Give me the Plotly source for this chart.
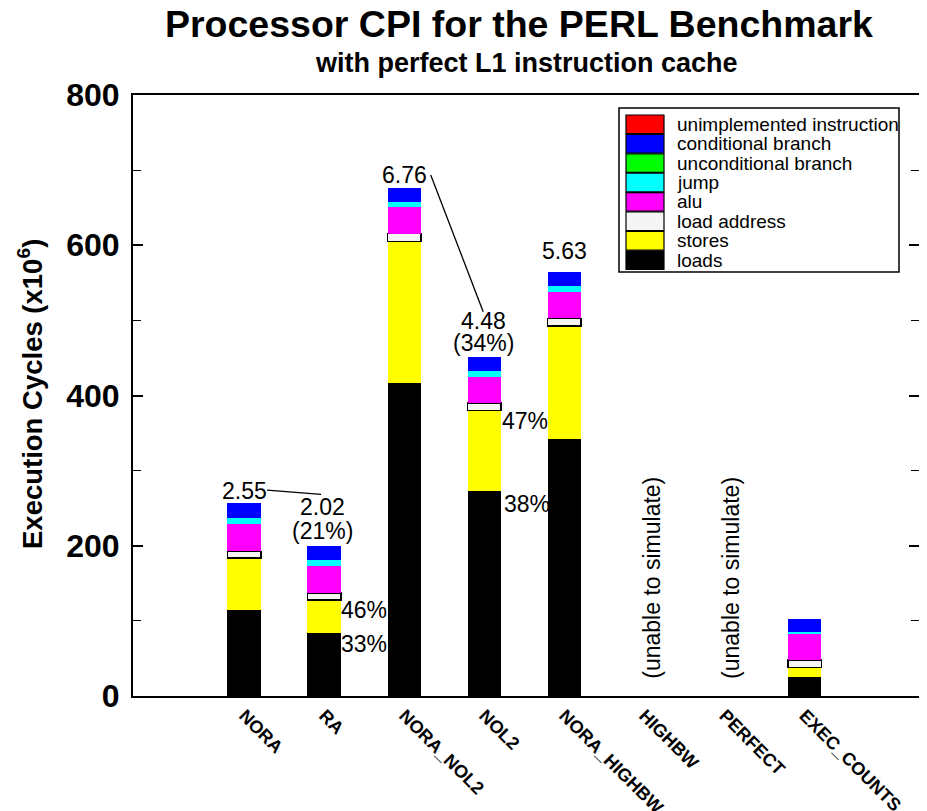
import plotly.graph_objects as go

# ---------------- data ----------------
categories = ["NORA", "RA", "NORA_NOL2", "NOL2", "NORA_HIGHBW", "HIGHBW", "PERFECT", "EXEC_COUNTS"]
positions = [0, 1, 2, 3, 4, 5, 6, 7]

loads = [114.5, 84.3, 416, 273, 341.7, None, None, 25.7]
stores = [69, 43.5, 189, 107, 150.8, None, None, 12.5]
load_address = [9, 9.7, 10.6, 9.8, 10.2, None, None, 9.7]
alu = [36, 36, 35.5, 35.4, 35.4, None, None, 35.5]
jump = [8, 7.6, 6.7, 7.6, 7.6, None, None, 2.2]
unconditional_branch = [0, 0, 0, 0, 0, None, None, 0]
conditional_branch = [20, 19, 19, 18, 19, None, None, 16.5]
unimplemented = [0, 0, 0, 0, 0, None, None, 0]

series_names = ["loads", "stores", "load address", "alu", "jump",
                "unconditional branch", "conditional branch", "unimplemented instruction"]
series_values = [loads, stores, load_address, alu, jump,
                 unconditional_branch, conditional_branch, unimplemented]
series_colors = ["#000000", "#ffff00", "#f5f5f5", "#ff00ff", "#00ffff",
                 "#00ff00", "#0000ff", "#ff0000"]

y_ticks = [0, 200, 400, 600, 800]

FONT = "Liberation Sans, Arial, Helvetica, sans-serif"

# the page body adds an 8px offset; margins compensate so the plot box is at x 133-919, y 95-696
OFF = 8
L, T = 133 - OFF, 95 - OFF
R = 927 - (919 - OFF)
B = 811 - (696 - OFF)
PW, PH = 919 - 133, 696 - 95

fig = go.Figure()
for name, vals, col in zip(series_names, series_values, series_colors):
    outline = 1.6 if name == "load address" else 0
    fig.add_trace(go.Bar(
        x=positions, y=vals, name=name, width=0.42,
        marker=dict(color=col, line=dict(color="black", width=outline)),
        showlegend=False,
    ))

fig.update_layout(
    barmode="stack",
    width=927, height=811,
    margin=dict(l=L, r=R, t=T, b=B, autoexpand=False),
    paper_bgcolor="white", plot_bgcolor="white",
    font=dict(family=FONT, color="black"),
)

fig.update_xaxes(
    range=[-1.39, 8.43],
    tickmode="array", tickvals=positions, ticktext=categories,
    tickangle=45, ticks="",
    tickfont=dict(family=FONT, size=18, weight="bold", color="black"),
    showline=True, linecolor="black", linewidth=2, mirror=True,
    showgrid=False, zeroline=False, automargin=False,
)
fig.update_yaxes(
    range=[0, 800],
    tickmode="array", tickvals=y_ticks,
    ticks="inside", ticklen=10, tickwidth=1.5, tickcolor="black",
    minor=dict(dtick=100, ticks="inside", ticklen=8, tickwidth=1.2, tickcolor="black", showgrid=False),
    tickfont=dict(family=FONT, size=32, weight="bold", color="black"),
    ticklabelstandoff=5,
    showline=True, linecolor="black", linewidth=2, mirror="ticks",
    showgrid=False, zeroline=False, automargin=False,
)


def px_x(px):
    return (px - 133) / PW


def px_y(py):
    return (696 - py) / PH


ann = []
# titles
ann.append(dict(text="Processor CPI for the PERL Benchmark", xref="paper", yref="paper",
                x=px_x(518.5), y=px_y(24), xanchor="center", yanchor="middle", showarrow=False,
                font=dict(family=FONT, size=37.5, weight="bold")))
ann.append(dict(text="with perfect L1 instruction cache", xref="paper", yref="paper",
                x=px_x(526.5), y=px_y(63), xanchor="center", yanchor="middle", showarrow=False,
                font=dict(family=FONT, size=27, weight="bold")))
ann.append(dict(text="Execution Cycles (x10<sup>6</sup>)", xref="paper", yref="paper",
                x=px_x(30), y=px_y(394), xanchor="center", yanchor="middle", textangle=-90,
                showarrow=False, font=dict(family=FONT, size=27.5, weight="bold")))

# value labels
labels = [
    ("2.55", 0.0, 273.5, "center"),
    ("2.02", 0.975, 252, "center"),
    ("(21%)", 0.975, 219.6, "center"),
    ("46%", 1.18, 114.5, "left"),
    ("33%", 1.18, 69.6, "left"),
    ("6.76", 2.0, 693.5, "center"),
    ("4.48", 2.985, 498.7, "center"),
    ("(34%)", 2.985, 469.5, "center"),
    ("47%", 3.2, 366.7, "left"),
    ("38%", 3.22, 255.5, "left"),
    ("5.63", 4.0, 592, "center"),
]
for t, x, y, anc in labels:
    ann.append(dict(text=t, x=x, y=y, xref="x", yref="y", xanchor=anc, yanchor="middle",
                    showarrow=False, font=dict(family=FONT, size=23)))
for x in [5.09, 6.08]:
    ann.append(dict(text="(unable to simulate)", x=x, y=157, xref="x", yref="y",
                    xanchor="center", yanchor="middle", textangle=-90, showarrow=False,
                    font=dict(family=FONT, size=23)))

shapes = [
    dict(type="line", xref="x", yref="y", x0=0.285, y0=274, x1=0.96, y1=268.5,
         line=dict(color="black", width=1.3)),
    dict(type="line", xref="x", yref="y", x0=2.33, y0=693.5, x1=2.985, y1=511.5,
         line=dict(color="black", width=1.3)),
]

# manual legend (paper coords)
shapes.append(dict(type="rect", xref="paper", yref="paper",
                   x0=px_x(619), x1=px_x(899), y0=px_y(272), y1=px_y(108),
                   line=dict(color="black", width=1.5), fillcolor="white", layer="above"))
legend_order = list(range(len(series_names)))[::-1]
for i, k in enumerate(legend_order):
    top = 115 + i * 19.4
    bot = top + 18.6
    shapes.append(dict(type="rect", xref="paper", yref="paper",
                       x0=px_x(626), x1=px_x(664), y0=px_y(bot), y1=px_y(top),
                       line=dict(color="black", width=1.2), fillcolor=series_colors[k],
                       layer="above"))
    ann.append(dict(text=series_names[k], xref="paper", yref="paper",
                    x=px_x(675), y=px_y((top + bot) / 2), xanchor="left", yanchor="middle",
                    showarrow=False, font=dict(family=FONT, size=19)))

fig.update_layout(annotations=ann, shapes=shapes)
fig.write_html("out.html")
